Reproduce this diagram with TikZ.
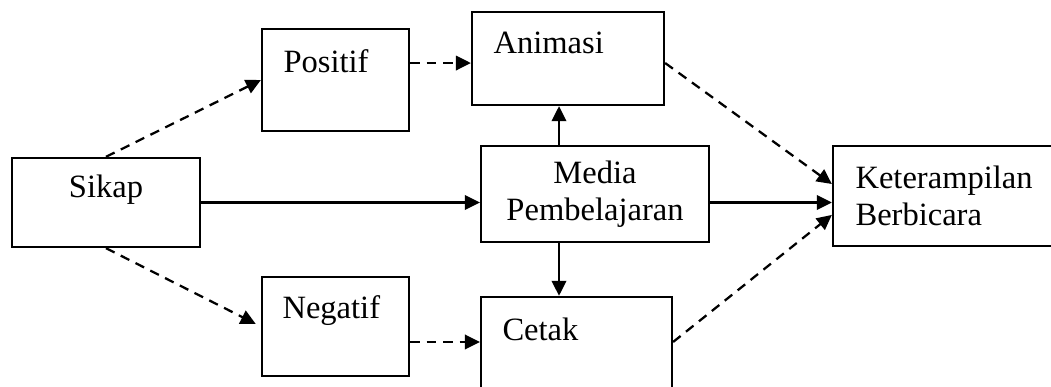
\documentclass[tikz,border=0pt]{standalone}
\usepackage{fontspec}
\setmainfont{Liberation Serif}
\usetikzlibrary{arrows.meta}
\tikzset{
box/.style={draw, line width=0.85pt, inner sep=0pt}, % frame of every block
txt/.style={inner sep=0pt, font=\fontsize{12.2}{14}\selectfont}, % block captions
flow/.style={line width=0.85pt, -{Triangle[length=5.6pt,width=5.4pt]}}, % solid arrows
dflow/.style={flow, dash pattern=on 3.6pt off 2.6pt}, % dashed arrows
}

\begin{document}
\begin{tikzpicture}[x=0.375pt, y=-0.375pt]
    \clip (0,0) rectangle (1051,387);
    % blocks
    \node[box, minimum width=70.5pt, minimum height=33.4pt] (sikap) at (106,202.5) {};
    \node[box, minimum width=55.1pt, minimum height=38.2pt] (positif) at (335.5,80) {};
    \node[box, minimum width=55.1pt, minimum height=37.1pt] (negatif) at (335.5,326.5) {};
    \node[box, minimum width=72pt, minimum height=34.9pt] (animasi) at (568,58.5) {};
    \node[box, txt, align=center, minimum width=85.5pt, minimum height=36pt] (media) at (595,194) {Media\\Pembelajaran};
    \node[box, minimum width=71.6pt, minimum height=39.8pt] (cetak) at (576.5,350) {};
    \node[box, minimum width=88.9pt, minimum height=37.5pt] (ketr) at (951.5,196) {};
    % captions
    \node[txt] (tsikap) at (106,190) {Sikap};
    \node[txt, anchor=west] (tpositif) at (283,61) {Positif};
    \node[txt, anchor=west] (tnegatif) at (282,311) {Negatif};
    \node[txt, anchor=west] (tanimasi) at (493,43) {Animasi};
    \node[txt, anchor=west] (tcetak) at (502,329) {Cetak};
    \node[txt, anchor=west, align=left] (tketr) at (855,196) {Keterampilan\\Berbicara};
    % connectors
    \draw[dflow] (sikap.north) -- (positif.west);
    \draw[dflow, shorten >=2.2pt] (sikap.south) -- (negatif.west);
    \draw[dflow] ([yshift=-1.7pt]animasi.west -| positif.east) -- ([yshift=-1.7pt]animasi.west);
    \draw[dflow] ([yshift=3pt]cetak.west -| negatif.east) -- ([yshift=3pt]cetak.west);
    \draw[flow] (sikap.east) -- (sikap.east -| media.west);
    \draw[flow] ([xshift=-13.5pt]media.north) -- ([xshift=-13.5pt]media.north |- animasi.south);
    \draw[flow] ([xshift=-13.5pt]media.south) -- ([xshift=-13.5pt]media.south |- cetak.north);
    \draw[flow] (sikap.east -| media.east) -- (sikap.east -| ketr.west);
    \draw[dflow] ([yshift=-1.7pt]animasi.east) -- ([yshift=4.5pt]ketr.west);
    \draw[dflow] ([yshift=3pt]cetak.east) -- ([yshift=-7.1pt]ketr.west);
\end{tikzpicture}
\end{document}
